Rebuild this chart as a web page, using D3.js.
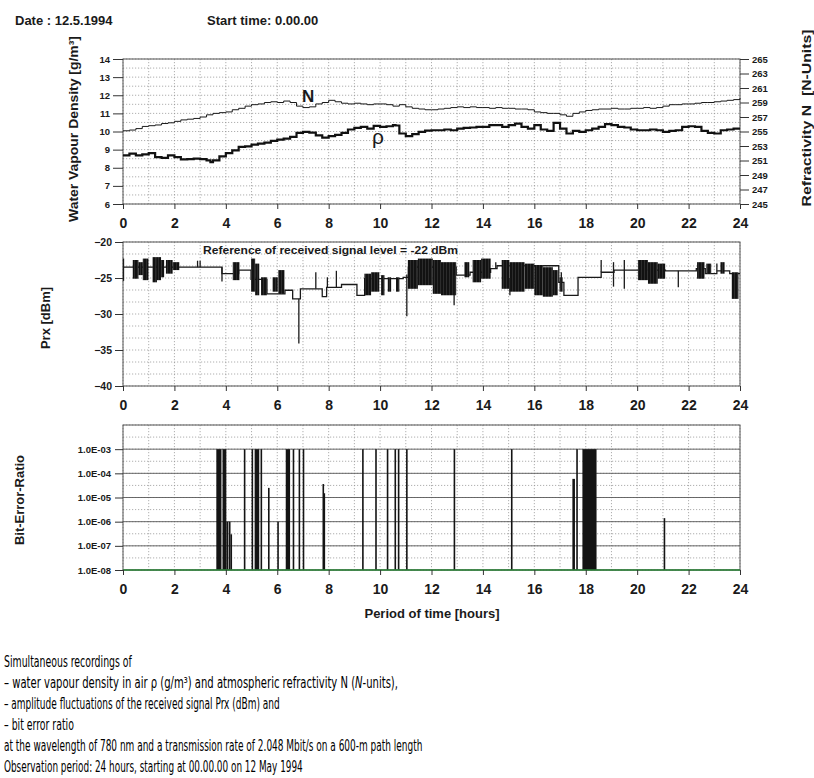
<!DOCTYPE html>
<html>
<head>
<meta charset="utf-8">
<script src="https://cdn.jsdelivr.net/npm/d3@7"></script>
<style>
  body { margin: 0; background: #fff; }
  svg { display: block; font-family: "Liberation Sans", Arial, sans-serif; }
  .grid line { stroke: #8c8c8c; stroke-width: 0.7; stroke-dasharray: 1.2, 1.8; }
  .frame { fill: none; stroke: #555; stroke-width: 1; }
</style>
</head>
<body>
<svg id="chart" width="814" height="778"></svg>
<script>
// ---- data ----
const hourTicks = [0, 2, 4, 6, 8, 10, 12, 14, 16, 18, 20, 22, 24];
const wvTicks = [6, 7, 8, 9, 10, 11, 12, 13, 14];
const nTicks = [245, 247, 249, 251, 253, 255, 257, 259, 261, 263, 265];
const prxTicks = [-20, -25, -30, -35, -40];
const berTicks = [1e-8, 1e-7, 1e-6, 1e-5, 1e-4, 1e-3];

// water vapour density rho [g/m3], hours
const rho = [[0,8.68],[0.25,8.78],[0.5,8.68],[0.75,8.74],[1,8.81],[1.25,8.59],[1.5,8.55],[1.75,8.68],
  [2,8.59],[2.25,8.46],[2.5,8.48],[2.75,8.5],[3,8.48],[3.25,8.41],[3.4,8.31],[3.5,8.41],[3.75,8.63],
  [4,8.81],[4.25,8.96],[4.5,9.15],[4.75,9.18],[5,9.28],[5.25,9.33],[5.5,9.39],[5.75,9.48],[6,9.55],
  [6.25,9.61],[6.5,9.7],[6.75,9.92],[7,9.98],[7.25,9.94],[7.5,9.79],[7.75,9.66],[8,9.74],[8.25,9.81],
  [8.5,9.92],[8.75,10.11],[9,10.2],[9.25,10.26],[9.5,10.16],[9.75,10.31],[10,10.26],[10.25,10.29],
  [10.5,10.35],[10.6,10.33],[10.75,9.89],[11,9.74],[11.25,9.85],[11.5,9.98],[11.75,10.05],[12,10.07],
  [12.25,10.07],[12.5,10.11],[12.75,10.07],[13,10.16],[13.25,10.2],[13.5,10.22],[13.75,10.26],[14,10.26],
  [14.25,10.35],[14.5,10.35],[14.75,10.26],[15,10.35],[15.25,10.44],[15.5,10.26],[15.75,10.16],[16,10.35],
  [16.25,10.11],[16.5,10.04],[16.75,10.48],[17,10.16],[17.25,9.89],[17.5,10.04],[17.75,9.98],[18,10.07],
  [18.25,10.16],[18.5,10.26],[18.75,10.41],[19,10.35],[19.25,10.26],[19.5,10.22],[19.75,10.11],[20,10.07],
  [20.25,10.07],[20.5,10.11],[20.75,10.07],[21,9.98],[21.25,10.04],[21.5,10.07],[21.75,10.26],[22,10.29],
  [22.25,10.26],[22.5,10.04],[22.75,9.92],[23,9.89],[23.25,10.07],[23.5,10.11],[23.75,10.16],[24,10.16]];

// refractivity N [N-units], hours
const refN = [[0,255.1],[0.25,255.2],[0.5,255.4],[0.75,255.7],[1,255.8],[1.25,255.9],[1.5,256.1],[1.75,256.2],
  [2,256.4],[2.25,256.6],[2.5,256.7],[2.75,256.8],[3,257.0],[3.25,257.3],[3.5,257.5],[3.75,257.6],[4,257.7],
  [4.25,258.0],[4.5,258.2],[4.75,258.5],[5,258.7],[5.25,258.8],[5.5,259.0],[5.75,259.1],[6,259.0],[6.25,259.2],
  [6.5,259.0],[6.75,258.5],[7,258.3],[7.25,258.4],[7.5,258.8],[7.75,259.0],[8,259.3],[8.25,259.1],[8.5,258.9],
  [8.75,258.8],[9,258.9],[9.25,258.8],[9.5,258.7],[9.75,258.8],[10,258.8],[10.25,258.7],[10.5,258.5],
  [10.75,258.7],[11,258.4],[11.25,258.2],[11.5,258.1],[11.75,258.0],[12,258.0],[12.25,258.1],[12.5,258.2],
  [12.75,258.3],[13,258.4],[13.25,258.3],[13.5,258.4],[13.75,258.3],[14,258.3],[14.25,258.2],[14.5,258.3],
  [14.75,258.2],[15,258.2],[15.25,258.1],[15.5,258.1],[15.75,258.0],[16,257.7],[16.25,257.6],[16.5,257.5],
  [16.75,257.5],[17,257.3],[17.25,257.1],[17.5,257.5],[17.75,257.7],[18,257.9],[18.25,258.0],[18.5,258.1],
  [18.75,258.1],[19,258.2],[19.25,258.1],[19.5,258.1],[19.75,258.2],[20,258.2],[20.25,258.3],[20.5,258.2],
  [20.75,258.3],[21,258.5],[21.25,258.7],[21.5,258.7],[21.75,258.8],[22,258.8],[22.25,258.9],[22.5,259.0],
  [22.75,259.0],[23,259.1],[23.25,259.2],[23.5,259.3],[23.75,259.4],[24,259.6]];

// received level Prx [dBm]: quiet step level, fluctuation bursts [t0, t1, top, bottom], single spikes [t, top, bottom]
const prxLevel = [[0,-23.5],[2.2,-23.5],[3.85,-24.4],[4.5,-23.9],[4.98,-25.2],[5.6,-27.2],[6.3,-26.7],
  [6.6,-27.9],[6.9,-26.5],[7.75,-27.6],[7.92,-26.3],[8.5,-25.9],[9.1,-27.4],[9.4,-25.1],[10.9,-24.9],
  [11.1,-23.5],[12.96,-24.6],[13.5,-24.2],[14.3,-23.7],[14.55,-23.3],[16.95,-25.6],[17.15,-27.4],
  [17.7,-24.9],[18.6,-24.2],[19.1,-23.9],[21.1,-24.0],[22.3,-23.7],[22.65,-24.4],[23.1,-24.0],
  [23.6,-24.4],[24,-24.4]];
const prxBursts = [[0.38,0.6,-22.5,-25.1],[0.6,0.77,-22.8,-24.6],[0.77,0.99,-22.3,-25.3],[1.15,1.32,-22.1,-25.6],
  [1.32,1.48,-22.1,-25.3],[1.48,1.6,-22.5,-24.9],[1.67,1.93,-22.5,-24.4],[1.93,2.19,-22.8,-23.9],
  [4.27,4.53,-22.8,-25.3],[4.98,5.14,-22.3,-26.9],[5.14,5.3,-23.0,-27.4],[5.37,5.6,-24.9,-27.4],
  [5.82,6.02,-24.9,-26.9],[6.04,6.28,-23.9,-27.2],[9.39,9.65,-24.4,-27.4],[9.65,9.97,-24.2,-26.9],
  [10.04,10.17,-24.6,-27.4],[10.3,10.43,-24.9,-26.9],[10.62,10.75,-24.9,-26.9],[11.08,11.47,-22.5,-26.5],
  [11.47,12.05,-22.3,-26.0],[12.05,12.37,-22.5,-27.2],[12.37,12.96,-22.8,-27.4],[13.28,13.47,-22.8,-24.9],
  [13.6,13.93,-22.5,-25.6],[13.93,14.3,-22.3,-25.1],[14.73,15.03,-22.5,-26.5],[15.03,15.62,-22.8,-26.9],
  [15.62,16.0,-23.0,-26.5],[16.0,16.33,-23.2,-27.4],[16.33,16.72,-23.5,-27.6],[16.72,16.91,-23.9,-27.4],
  [16.98,17.1,-24.9,-26.9],[20.03,20.42,-22.5,-25.3],[20.42,20.8,-22.8,-25.8],[20.8,21.09,-23.0,-25.1],
  [22.33,22.62,-22.8,-25.1],[22.69,22.88,-23.0,-24.4],[23.24,23.4,-22.8,-24.4],[23.68,23.94,-24.2,-27.9]];
const prxSpikes = [[0.02,-22.3,-25.4],[2.9,-22.6,-23.5],[3.0,-22.6,-23.5],[3.85,-23.5,-25.5],[6.84,-27.9,-34.1],
  [7.5,-24.2,-26.5],[7.95,-24.9,-26.3],[8.3,-24.0,-26.3],[11.04,-24.5,-30.3],[12.88,-24.6,-28.8],
  [14.5,-22.8,-23.7],[15.05,-25.0,-27.4],[17.05,-24.2,-26.4],[18.6,-22.5,-24.2],[19.08,-22.8,-26.2],
  [19.5,-22.5,-26.5],[21.6,-24.0,-26.3],[23.1,-23.0,-24.0]];

// bit error ratio events [t0, t1, BER]
const berBars = [[3.63,3.83,1e-3],[3.87,4.02,1e-3],[4.02,4.1,1e-6],[4.12,4.18,1e-6],[4.18,4.24,3e-7],
  [4.7,4.75,1e-3],[5.0,5.04,1e-3],[5.12,5.3,1e-3],[5.35,5.4,1e-3],[5.64,5.67,2.5e-5],[6.0,6.02,1e-6],
  [6.33,6.5,1e-3],[6.6,6.63,1e-3],[6.83,6.86,1e-3],[6.99,7.02,1e-3],[7.76,7.8,3.6e-5],[7.8,7.85,1.5e-5],
  [9.3,9.33,1e-3],[9.81,9.84,1e-3],[10.26,10.29,1e-3],[10.56,10.59,1e-3],[10.69,10.72,1e-3],
  [11.01,11.04,1e-3],[12.86,12.89,1e-3],[15.09,15.12,1e-3],[17.48,17.58,5.9e-5],[17.63,17.67,1e-3],
  [17.87,18.42,1e-3],[21.03,21.06,1.4e-6]];

const captionLines = [
  "Simultaneous recordings of",
  "– water vapour density in air ρ (g/m³) and atmospheric refractivity N (*N*-units),",
  "– amplitude fluctuations of the received signal Prx (dBm) and",
  "– bit error ratio",
  "at the wavelength of 780 nm and a transmission rate of 2.048 Mbit/s on a 600-m path length",
  "Observation period: 24 hours, starting at 00.00.00 on 12 May 1994"];
const captionWidths = [128, 394, 276, 70, 419, 299];

// ---- drawing ----
const svg = d3.select("#chart");
const x = d3.scaleLinear([0, 24], [123, 740]);
const gridHours = d3.range(0, 25, 1);

const defs = svg.append("defs");
const hatch = defs.append("pattern").attr("id", "hatch")
  .attr("patternUnits", "userSpaceOnUse").attr("width", 3).attr("height", 4);
hatch.append("rect").attr("width", 3).attr("height", 4).attr("fill", "#121212");
hatch.append("line").attr("x1", 2.6).attr("x2", 2.6).attr("y1", 0).attr("y2", 4)
  .attr("stroke", "#fff").attr("stroke-width", 0.4).attr("stroke-opacity", 0.3);

function styleAxis(g, size) {
  g.attr("font-family", null).attr("font-size", size);
  g.select(".domain").remove();
  g.selectAll(".tick line").attr("stroke", "#333");
  g.selectAll(".tick text").attr("fill", "#1a1a1a").attr("font-weight", "bold");
}

function panelGrid(y0, y1, yScale, yVals) {
  const g = svg.append("g").attr("class", "grid");
  g.selectAll("line.v").data(gridHours).join("line").attr("class", "v")
    .attr("x1", d => x(d)).attr("x2", d => x(d)).attr("y1", y0).attr("y2", y1);
  g.selectAll("line.h").data(yVals).join("line").attr("class", "h")
    .attr("x1", x(0)).attr("x2", x(24)).attr("y1", d => yScale(d)).attr("y2", d => yScale(d));
}

function frame(y0, y1) {
  svg.append("rect").attr("class", "frame")
    .attr("x", x(0)).attr("y", y0).attr("width", x(24) - x(0)).attr("height", y1 - y0);
}

function bottomAxis(y) {
  svg.append("g").attr("transform", `translate(0,${y})`)
    .call(d3.axisBottom(x).tickValues(hourTicks).tickSize(5).tickPadding(9))
    .call(g => styleAxis(g, 14));
}

function vTitle(txt, cx, cy, size, len) {
  const t = svg.append("text").attr("transform", `translate(${cx},${cy}) rotate(-90)`)
    .attr("text-anchor", "middle").attr("dy", "0.35em")
    .attr("font-size", size).attr("font-weight", "bold").attr("fill", "#1a1a1a")
    .style("white-space", "pre").text(txt);
  if (len) t.attr("textLength", len).attr("lengthAdjust", "spacingAndGlyphs");
}

// header
svg.append("text").attr("x", 15).attr("y", 25).attr("font-size", 13).attr("font-weight", "bold")
  .attr("fill", "#1a1a1a").text("Date : 12.5.1994");
svg.append("text").attr("x", 207).attr("y", 25).attr("font-size", 13).attr("font-weight", "bold")
  .attr("fill", "#1a1a1a").text("Start time: 0.00.00");

// --- panel 1: water vapour density and refractivity
const yW = d3.scaleLinear([6, 14], [204, 59]);
const yN = d3.scaleLinear([245, 265], [204, 59]);
panelGrid(59, 204, yW, d3.range(6, 14.01, 0.5));
frame(59, 204);
svg.append("g").attr("transform", `translate(${x(0)},0)`)
  .call(d3.axisLeft(yW).tickValues(wvTicks).tickSize(10).tickPadding(3))
  .call(g => styleAxis(g, 9.5));
svg.append("g").attr("transform", `translate(${x(24)},0)`)
  .call(d3.axisRight(yN).tickValues(nTicks).tickSize(9).tickPadding(3))
  .call(g => styleAxis(g, 9.5));
bottomAxis(204);

svg.append("path").datum(refN).attr("fill", "none").attr("stroke", "#1a1a1a").attr("stroke-width", 1)
  .attr("d", d3.line().x(d => x(d[0])).y(d => yN(d[1])).curve(d3.curveStepAfter));
svg.append("path").datum(rho).attr("fill", "none").attr("stroke", "#111").attr("stroke-width", 2.2)
  .attr("d", d3.line().x(d => x(d[0])).y(d => yW(d[1])).curve(d3.curveStepAfter));
svg.append("text").attr("x", 302).attr("y", 102).attr("font-size", 17).attr("font-weight", "bold")
  .attr("fill", "#1a1a1a").text("N");
svg.append("text").attr("x", 372).attr("y", 144).attr("font-size", 21)
  .attr("fill", "#1a1a1a").text("ρ");

vTitle("Water Vapour Density [g/m³]", 73, 129, 13.5, 186);
vTitle("Refractivity N  [N-Units]", 806, 118, 13, 177);

// --- panel 2: received signal level
const yP = d3.scaleLinear([-40, -20], [386, 242]);
panelGrid(242, 386, yP, d3.range(-40, -19.99, 5 / 3));
frame(242, 386);
svg.append("g").attr("transform", `translate(${x(0)},0)`)
  .call(d3.axisLeft(yP).tickValues(prxTicks).tickSize(8).tickPadding(3))
  .call(g => styleAxis(g, 10.5));
bottomAxis(386);

svg.append("path").datum(prxLevel).attr("fill", "none").attr("stroke", "#1a1a1a").attr("stroke-width", 1.3)
  .attr("d", d3.line().x(d => x(d[0])).y(d => yP(d[1])).curve(d3.curveStepAfter));
svg.append("g").selectAll("rect").data(prxBursts).join("rect")
  .attr("x", d => x(d[0])).attr("width", d => x(d[1]) - x(d[0]))
  .attr("y", d => yP(d[2])).attr("height", d => yP(d[3]) - yP(d[2]))
  .attr("fill", "url(#hatch)");
svg.append("g").selectAll("line").data(prxSpikes).join("line")
  .attr("x1", d => x(d[0])).attr("x2", d => x(d[0]))
  .attr("y1", d => yP(d[1])).attr("y2", d => yP(d[2]))
  .attr("stroke", "#1a1a1a").attr("stroke-width", 1.3);
svg.append("text").attr("x", 203).attr("y", 254).attr("font-size", 11.5).attr("font-weight", "bold")
  .attr("fill", "#1a1a1a").attr("textLength", 255).attr("lengthAdjust", "spacingAndGlyphs")
  .text("Reference of received signal level = -22 dBm");

vTitle("Prx [dBm]", 45, 318, 13);

// --- panel 3: bit error ratio
const yB = d3.scaleLog([1e-8, 1e-2], [570, 425]);
panelGrid(425, 570, yB, d3.range(-8, -1.99, 0.5).map(e => 10 ** e));
svg.append("g").selectAll("line").data(berTicks).join("line")
  .attr("x1", x(0)).attr("x2", x(24)).attr("y1", d => yB(d)).attr("y2", d => yB(d))
  .attr("stroke", "#5a5a5a").attr("stroke-width", 0.9);
frame(425, 570);
svg.append("g").attr("transform", `translate(${x(0)},0)`)
  .call(d3.axisLeft(yB).tickValues(berTicks).tickSize(8).tickPadding(4)
    .tickFormat(d => "1.0E-" + String(-Math.round(Math.log10(d))).padStart(2, "0")))
  .call(g => styleAxis(g, 9.5));

svg.append("g").selectAll("rect").data(berBars).join("rect")
  .attr("x", d => x(d[0])).attr("width", d => Math.max(1.6, x(d[1]) - x(d[0])))
  .attr("y", d => yB(d[2])).attr("height", d => yB(1e-8) - yB(d[2]))
  .attr("fill", "#141414");
svg.append("line").attr("x1", x(0)).attr("x2", x(24)).attr("y1", yB(1e-8)).attr("y2", yB(1e-8))
  .attr("stroke", "#2f8a3c").attr("stroke-width", 1.6);
bottomAxis(570);

vTitle("Bit-Error-Ratio", 19, 500, 13, 90);
svg.append("text").attr("x", 432).attr("y", 618).attr("text-anchor", "middle")
  .attr("font-size", 13).attr("font-weight", "bold").attr("fill", "#1a1a1a")
  .text("Period of time [hours]");

// --- caption: narrow face, each line squeezed to the width it has in the print
const cap = svg.append("g").attr("font-family", "'Liberation Sans Narrow', 'DejaVu Sans Condensed', sans-serif")
  .attr("font-size", 15.5).attr("fill", "#000");
captionLines.forEach((line, i) => {
  const t = cap.append("text").attr("x", 0).attr("y", 0);
  line.split("*").forEach((part, j) => {
    t.append("tspan").attr("font-style", j % 2 ? "italic" : null).text(part);
  });
  const k = captionWidths[i] / t.node().getComputedTextLength();
  t.attr("transform", `translate(4,${667 + i * 21}) scale(${k},1)`);
});
</script>
</body>
</html>
